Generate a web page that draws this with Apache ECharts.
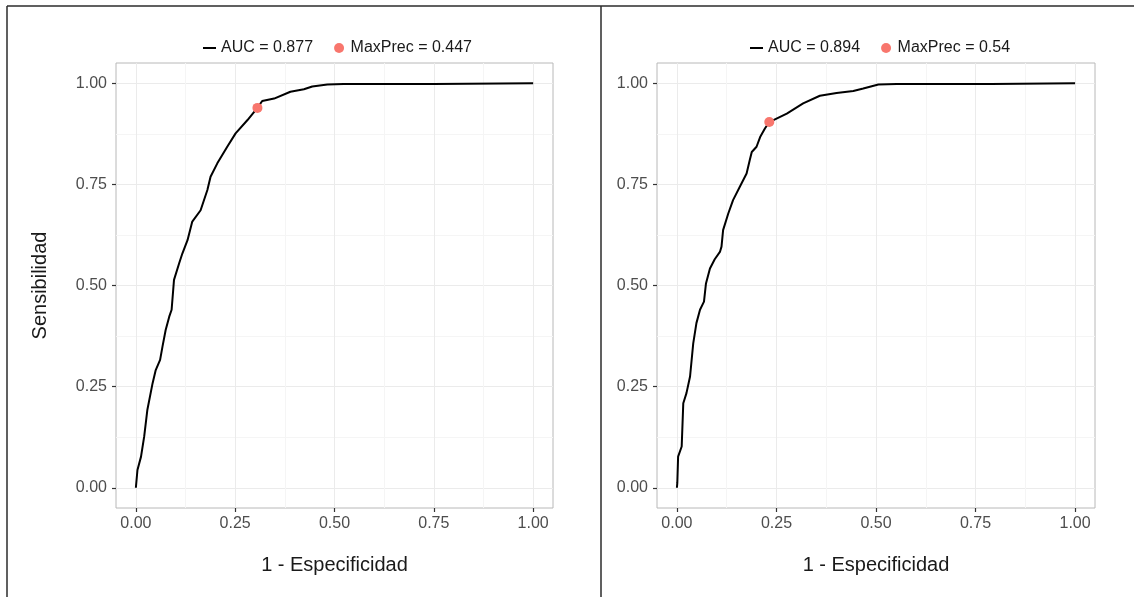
<!DOCTYPE html>
<html>
<head>
<meta charset="utf-8">
<script src="https://cdn.jsdelivr.net/npm/echarts@6/dist/echarts.min.js"></script>
<style>
  html, body { margin: 0; padding: 0; background: #ffffff; }
  #chart { width: 1134px; height: 597px; }
</style>
</head>
<body>
<div id="chart"></div>
<script>
// ROC curve, model 1: false-positive rate vs. sensitivity
const rocFprA = [0, 0.004, 0.013, 0.021, 0.029, 0.042, 0.050, 0.061, 0.067, 0.075, 0.084, 0.090,
  0.096, 0.109, 0.117, 0.130, 0.142, 0.163, 0.180, 0.188, 0.205, 0.230, 0.251, 0.281, 0.306,
  0.318, 0.348, 0.389, 0.423, 0.444, 0.482, 0.523, 0.750, 0.750, 1.0];
const rocTprA = [0, 0.044, 0.077, 0.127, 0.193, 0.258, 0.291, 0.316, 0.349, 0.390, 0.423, 0.440,
  0.514, 0.555, 0.579, 0.612, 0.658, 0.686, 0.736, 0.769, 0.802, 0.843, 0.876, 0.909, 0.939,
  0.956, 0.962, 0.979, 0.985, 0.992, 0.997, 0.998, 0.998, 1.0, 1.0];
const bestPointA = [0.306, 0.939];
const aucA = 0.877;
const maxPrecA = 0.447;

// ROC curve, model 2
const rocFprB = [0, 0.001, 0.003, 0.012, 0.016, 0.024, 0.033, 0.041, 0.049, 0.058, 0.068, 0.073,
  0.083, 0.095, 0.108, 0.112, 0.116, 0.129, 0.141, 0.158, 0.175, 0.183, 0.188, 0.200, 0.209,
  0.221, 0.232, 0.276, 0.317, 0.359, 0.401, 0.443, 0.468, 0.506, 0.552, 0.790, 0.790, 1.0];
const rocTprB = [0, 0.012, 0.077, 0.102, 0.209, 0.234, 0.275, 0.357, 0.407, 0.440, 0.460, 0.505,
  0.542, 0.565, 0.583, 0.596, 0.637, 0.678, 0.711, 0.744, 0.777, 0.810, 0.830, 0.843, 0.867,
  0.888, 0.904, 0.925, 0.950, 0.969, 0.976, 0.981, 0.987, 0.997, 0.998, 0.998, 1.0, 1.0];
const bestPointB = [0.232, 0.904];
const aucB = 0.894;
const maxPrecB = 0.54;

const majorTicks = [0, 0.25, 0.5, 0.75, 1];
const minorTicks = [0.125, 0.375, 0.625, 0.875];
const xTitle = '1 - Especificidad';
const yTitle = 'Sensibilidad';

const FONT = '"Liberation Sans", Arial, Helvetica, sans-serif';
const DOT = '#F8766D';
const LINE_KEY = 'path://M0,0H13V2H0Z';

function pairs(xs, ys) { return xs.map((x, i) => [x, ys[i]]); }
function fmt(v) { return v.toFixed(2); }

function majorAxis(gridIndex, isX, name) {
  return {
    type: 'value', gridIndex: gridIndex, min: -0.05, max: 1.05,
    position: isX ? 'bottom' : 'left',
    name: name || '', nameLocation: 'middle',
    nameGap: isX ? 47 : 66,
    nameTextStyle: { fontFamily: FONT, fontSize: 20, color: '#1a1a1a' },
    axisLine: { show: false, onZero: false },
    axisTick: { show: true, length: 4, customValues: majorTicks, lineStyle: { color: '#333333', width: 1.2 } },
    axisLabel: { show: true, customValues: majorTicks, formatter: fmt, margin: isX ? 8 : 9,
      fontFamily: FONT, fontSize: 16, color: '#4d4d4d' },
    splitLine: { show: true, lineStyle: { color: '#ebebeb', width: 1 } }
  };
}
function minorAxis(gridIndex, isX) {
  return {
    type: 'value', gridIndex: gridIndex, min: -0.05, max: 1.05,
    position: isX ? 'bottom' : 'left',
    axisLine: { show: false, onZero: false },
    axisTick: { show: false, customValues: minorTicks },
    axisLabel: { show: false },
    splitLine: { show: true, lineStyle: { color: '#f5f5f5', width: 1 } }
  };
}

const grids = [
  { left: 116, top: 63, width: 437, height: 445 },
  { left: 657, top: 63, width: 438, height: 445 }
].map(g => Object.assign(g, { show: true, backgroundColor: '#ffffff', borderColor: '#b8b8b8', borderWidth: 1 }));

const nameA = 'AUC = ' + aucA;
const dotA = 'MaxPrec = ' + maxPrecA;
const nameB = 'AUC = ' + aucB;
const dotB = 'MaxPrec = ' + maxPrecB;

function legend(left, lineName, dotName) {
  return {
    left: left, top: 35, orient: 'horizontal', selectedMode: false,
    itemWidth: 13, itemHeight: 10, itemGap: 21,
    textStyle: { fontFamily: FONT, fontSize: 16, color: '#1a1a1a' },
    data: [
      { name: lineName, icon: LINE_KEY, itemStyle: { color: '#000000' } },
      { name: dotName, icon: 'circle' }
    ]
  };
}

function curve(name, axisIndex, data) {
  return {
    name: name, type: 'line', xAxisIndex: axisIndex, yAxisIndex: axisIndex,
    data: data, symbol: 'none', smooth: false, z: 3,
    lineStyle: { color: '#000000', width: 2 }, itemStyle: { color: '#000000' }
  };
}
function dot(name, axisIndex, point) {
  return {
    name: name, type: 'scatter', xAxisIndex: axisIndex, yAxisIndex: axisIndex,
    data: [point], symbol: 'circle', symbolSize: 10, z: 4,
    itemStyle: { color: DOT, opacity: 1 }
  };
}

const chart = echarts.init(document.getElementById('chart'), null, { renderer: 'canvas' });
chart.setOption({
  animation: false,
  backgroundColor: '#ffffff',
  grid: grids,
  xAxis: [majorAxis(0, true, xTitle), minorAxis(0, true), majorAxis(1, true, xTitle), minorAxis(1, true)],
  yAxis: [majorAxis(0, false, yTitle), minorAxis(0, false), majorAxis(1, false, ''), minorAxis(1, false)],
  legend: [legend(198, nameA, dotA), legend(745, nameB, dotB)],
  series: [
    curve(nameA, 0, pairs(rocFprA, rocTprA)),
    dot(dotA, 0, bestPointA),
    curve(nameB, 2, pairs(rocFprB, rocTprB)),
    dot(dotB, 2, bestPointB)
  ],
  graphic: [
    { type: 'line', shape: { x1: 7, y1: 6, x2: 1134, y2: 6 }, style: { stroke: '#2b2b2b', lineWidth: 1.5 } },
    { type: 'line', shape: { x1: 7, y1: 6, x2: 7, y2: 597 }, style: { stroke: '#2b2b2b', lineWidth: 1.5 } },
    { type: 'line', shape: { x1: 601, y1: 6, x2: 601, y2: 597 }, style: { stroke: '#2b2b2b', lineWidth: 1.5 } }
  ]
});
</script>
</body>
</html>
